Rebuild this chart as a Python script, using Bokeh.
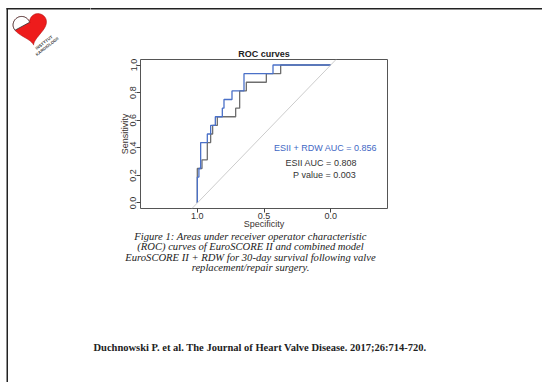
import numpy as np
from bokeh.plotting import figure
from bokeh.layouts import column, row
from bokeh.models import Range1d, FixedTicker, Label, Slope
from bokeh.core.properties import value
from bokeh.embed import file_html
from bokeh.resources import INLINE

# ---- data ----
# ROC step corners: specificity, sensitivity
spec_combined = [1.0, 1.0, 0.988, 0.975, 0.925, 0.9, 0.865, 0.8125, 0.8, 0.74, 0.65, 0.4325, 0.0]
sens_combined = [0.0, 0.1875, 0.25, 0.4375, 0.5, 0.5625, 0.625, 0.6875, 0.75, 0.8125, 0.9375, 1.0, 1.0]
spec_esii = [1.0, 1.0, 0.965, 0.925, 0.9, 0.885, 0.85, 0.7125, 0.6825, 0.6325, 0.4825, 0.375, 0.0]
sens_esii = [0.0, 0.25, 0.3125, 0.4375, 0.5, 0.5625, 0.625, 0.6875, 0.8125, 0.875, 0.9375, 1.0, 1.0]

x_ticks = [1.0, 0.5, 0.0]
x_tick_labels = ["1.0", "0.5", "0.0"]
y_ticks = [0.0, 0.2, 0.4, 0.6, 0.8, 1.0]
y_tick_labels = ["0.0", "0.2", "0.4", "0.6", "0.8", "1.0"]

title_text = "ROC curves"
x_title = "Specificity"
y_title = "Sensitivity"
legend_lines = ["ESII + RDW AUC = 0.856", "ESII AUC  = 0.808", "P value = 0.003"]
caption_lines = [
    "Figure 1: Areas under receiver operator characteristic",
    "(ROC) curves of EuroSCORE II and combined model",
    "EuroSCORE II + RDW for 30-day survival following valve",
    "replacement/repair surgery.",
]
footer_text = "Duchnowski P. et al. The Journal of Heart Valve Disease. 2017;26:714-720."
logo_lines = ["INSTYTUT", "KARDIOLOGII"]

# ---- layout constants (page pixels) ----
W, H = 542, 382
FL, FT, FR, FB = 140, 59, 387, 208   # ROC frame in page coords
TOP_H = 58          # top band height
BOT_Y = 232         # where bottom band starts
LEFT_W = 90         # left strip width
BORDER_C = "#222222"


def deco_fig(x0, x1, y0, y1):
    f = figure(width=int(x1 - x0), height=int(y1 - y0), x_range=Range1d(x0, x1), y_range=Range1d(y1, y0),
               output_backend="svg", toolbar_location=None,
               x_axis_location=None, y_axis_location=None,
               min_border=0, outline_line_color=None)
    f.grid.visible = False
    f.background_fill_color = "white"
    f.border_fill_color = "white"
    return f


# ---- left strip (full height): page border, logo ----
left = deco_fig(0, LEFT_W, 0, H)
left.quad(left=[6], right=[7.5], top=[7.5], bottom=[H + 5], fill_color=BORDER_C, line_color=None)
left.quad(left=[6], right=[LEFT_W + 5], top=[7.5], bottom=[9.0], fill_color=BORDER_C, line_color=None)

t = np.linspace(0, 2 * np.pi, 121)
hx = 16 * np.sin(t) ** 3
hy = 13 * np.cos(t) - 5 * np.cos(2 * t) - 2 * np.cos(3 * t) - np.cos(4 * t)
s = 1.05
cx, cy = 30.0, 27.0
th = np.deg2rad(-10)


def to_page(ux, uy):
    dx, dy = s * ux, -s * uy
    return cx + dx * np.cos(th) - dy * np.sin(th), cy + dx * np.sin(th) + dy * np.cos(th)


px, py = to_page(hx, hy)
left.patch(px, py, fill_color="#ee1c1c", line_color="#b01010", line_width=0.6)
mask = (hx <= 0.01) & (hy >= 5 + hx / 3) & (t > np.pi)
wx, wy = to_page(hx[mask], hy[mask])
left.patch(wx, wy, fill_color="white", line_color="#333333", line_width=0.8)
left.text(x=[43.5, 46.5], y=[42, 46], text=logo_lines, angle=0.66,
          text_font=value("Liberation Sans"), text_font_size="4.2px", text_font_style="bold",
          text_color="#444444", text_align="center", text_baseline="middle")

# ---- top right: page border, title ----
top = deco_fig(LEFT_W, W, 0, TOP_H)
top.quad(left=[LEFT_W - 5], right=[W + 5], top=[7.5], bottom=[9.0], fill_color=BORDER_C, line_color=None)
top.text(x=[263.5], y=[53.5], text=[title_text], text_font=value("Liberation Sans"),
         text_font_size="9px", text_font_style="bold", text_color="#222222",
         text_align="center", text_baseline="middle")

# ---- ROC plot ----
p = figure(width=W - LEFT_W, height=BOT_Y - TOP_H,
           x_range=Range1d(1.426, -0.426), y_range=Range1d(-0.04, 1.04),
           output_backend="svg", toolbar_location=None,
           min_border_left=FL - LEFT_W, min_border_right=W - FR,
           min_border_top=FT - TOP_H, min_border_bottom=BOT_Y - FB)
p.background_fill_color = "white"
p.border_fill_color = "white"
p.xgrid.visible = False
p.ygrid.visible = False
p.outline_line_color = "#555555"
p.outline_line_width = 1

for ax in (p.xaxis, p.yaxis):
    ax.axis_line_color = None
    ax.major_tick_line_color = "#444444"
    ax.major_tick_out = 4
    ax.major_tick_in = 0
    ax.minor_tick_line_color = None
    ax.major_label_text_font = "Liberation Sans"
    ax.major_label_text_font_size = "9px"
    ax.major_label_text_color = "#333333"
    ax.axis_label_text_font = "Liberation Sans"
    ax.axis_label_text_font_size = "9px"
    ax.axis_label_text_font_style = "normal"
    ax.axis_label_text_color = "#3a3330"
    ax.major_label_standoff = 0

p.xaxis.ticker = FixedTicker(ticks=x_ticks)
p.xaxis.major_label_overrides = dict(zip(x_ticks, x_tick_labels))
p.yaxis.ticker = FixedTicker(ticks=y_ticks)
p.yaxis.major_label_overrides = dict(zip(y_ticks, y_tick_labels))
p.yaxis.major_label_orientation = "parallel"
p.xaxis.axis_label = x_title
p.yaxis.axis_label = y_title
p.xaxis.axis_label_standoff = -3
p.yaxis.axis_label_standoff = -2

p.add_layout(Slope(gradient=-1, y_intercept=1, line_color="#cccccc", line_width=1))

p.step(spec_esii, sens_esii, mode="after", line_color="#6e6e6e", line_width=1.3)
p.step(spec_combined, sens_combined, mode="after", line_color="#4a70c8", line_width=1.3)

leg_pos = [(325, 147, "#3f68c4"), (322, 162, "#333333"), (324, 174, "#333333")]
for txt, (lx, ly, c) in zip(legend_lines, leg_pos):
    p.add_layout(Label(x=lx - FL, y=FB - ly, x_units="screen", y_units="screen",
                       text=txt, text_font="Liberation Sans", text_font_size="9px",
                       text_color=c, text_align="center", text_baseline="middle"))

# ---- bottom right: caption + footer ----
bot = deco_fig(LEFT_W, W, BOT_Y, H)
cap_y = [235.8, 246.2, 256.6, 267]
bot.text(x=[250] * len(caption_lines), y=cap_y, text=caption_lines,
         text_font=value("Liberation Serif"), text_font_size="10.6px", text_font_style="italic",
         text_color="#222222", text_align="center", text_baseline="middle")
bot.text(x=[93], y=[347], text=[footer_text],
         text_font=value("Liberation Serif"), text_font_size="10.5px", text_font_style="bold",
         text_color="#222222", text_align="left", text_baseline="middle")

# wrap plots individually so that their frames are not aligned with each other
layout = row(column(left), column(row(top), row(p), row(bot)))
open("out.html", "w").write(file_html(layout, INLINE))
